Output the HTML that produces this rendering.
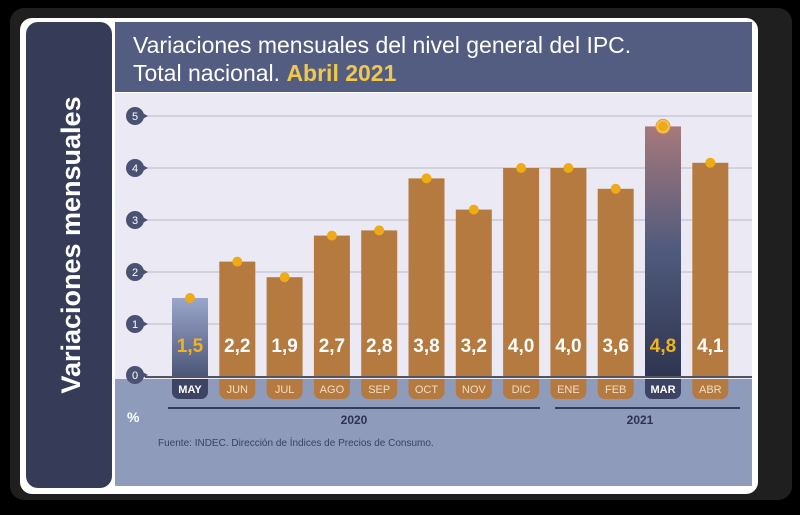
<!DOCTYPE html>
<html><head><meta charset="utf-8">
<style>
body{margin:0;width:800px;height:510px;background:#000;overflow:hidden;font-family:"Liberation Sans",sans-serif}
</style></head>
<body>
<svg width="800" height="510">
<defs>
<linearGradient id="gMay" x1="0" y1="0" x2="0" y2="1"><stop offset="0" stop-color="#9aa6cc"/><stop offset="1" stop-color="#4d5677"/></linearGradient>
<linearGradient id="gMar" x1="0" y1="0" x2="0" y2="1"><stop offset="0" stop-color="#a7787c"/><stop offset="0.5" stop-color="#4f5a7d"/><stop offset="1" stop-color="#2f3550"/></linearGradient>
</defs>
<rect x="10" y="8" width="782" height="492" rx="14" fill="#1f1f1f"/>
<rect x="20" y="18" width="738" height="476" rx="12" fill="#fff"/>
<rect x="26" y="22" width="86" height="466" rx="12" fill="#363c58"/>
<text transform="translate(80,245) rotate(-90)" text-anchor="middle" font-size="27" font-weight="bold" fill="#fff">Variaciones mensuales</text>
<rect x="115" y="22" width="637" height="70" fill="#535d82"/>
<text x="133" y="53" font-size="23" fill="#fff">Variaciones mensuales del nivel general del IPC.</text>
<text x="133" y="81" font-size="23" fill="#fff">Total nacional. <tspan fill="#f2c84a" font-weight="bold">Abril 2021</tspan></text>
<rect x="115" y="93" width="637" height="286" fill="#ebe9f3"/>
<rect x="115" y="379" width="637" height="107" fill="#8e9bbb"/>
<g id="grid"></g>
<g id="bars"></g>
<line x1="145" y1="377" x2="752" y2="377" stroke="#1e2235" stroke-width="1.5"/>
<g id="ticks"></g>
<line x1="168" y1="408" x2="540" y2="408" stroke="#363c58" stroke-width="2"/>
<line x1="555" y1="408" x2="740" y2="408" stroke="#363c58" stroke-width="2"/>
<text x="354" y="424" text-anchor="middle" font-size="12" font-weight="bold" fill="#2c3250">2020</text>
<text x="640" y="424" text-anchor="middle" font-size="12" font-weight="bold" fill="#2c3250">2021</text>
<text x="127" y="422" font-size="14" font-weight="bold" fill="#fff">%</text>
<text x="158" y="446" font-size="10" fill="#3b4262">Fuente: INDEC. Dirección de Índices de Precios de Consumo.</text>
</svg>
<script>
const months=["MAY","JUN","JUL","AGO","SEP","OCT","NOV","DIC","ENE","FEB","MAR","ABR"];
const values=[1.5,2.2,1.9,2.7,2.8,3.8,3.2,4.0,4.0,3.6,4.8,4.1];
const labels=["1,5","2,2","1,9","2,7","2,8","3,8","3,2","4,0","4,0","3,6","4,8","4,1"];
const yTicks=[0,1,2,3,4,5];
const NS="http://www.w3.org/2000/svg";
const y=v=>376-v*52;
const x=i=>190+i*47.3;
function mk(t,a,p){const e=document.createElementNS(NS,t);for(const k in a)e.setAttribute(k,a[k]);p.appendChild(e);return e;}
const grid=document.getElementById('grid'),ticks=document.getElementById('ticks'),bars=document.getElementById('bars');
yTicks.forEach(t=>{
 if(t>0){const l=mk('line',{x1:145,x2:752,y1:y(t),y2:y(t),stroke:'#c4c3d0','stroke-width':1.2},grid);
 
 }
 const yy=y(t)+(t==0?-1:0);
 const p=mk('path',{d:`M137 ${yy-6} L148 ${yy} L137 ${yy+6}Z`,fill:'#4a5274'},ticks);
 
 
 const c=mk('circle',{cx:135,cy:yy,r:9,fill:'#4a5274'},ticks);
 
 
 const tx=mk('text',{x:135,y:yy+4,'text-anchor':'middle','font-size':11,fill:'#fff'},ticks);
 tx.textContent=t;
 
 
});
values.forEach((v,i)=>{
 const cx=x(i),w=36;
 const special=i==0?'url(#gMay)':i==10?'url(#gMar)':'#b57a3f';
 const b=mk('rect',{x:cx-w/2,y:y(v),width:w,height:376-y(v),fill:special},bars);
 
 
 if(i==10){const r=mk('circle',{cx:cx,cy:y(v),r:7,fill:'#f2c070',stroke:'#e8a21a','stroke-width':1},bars);
 
 }
 const d=mk('circle',{cx:cx,cy:y(v),r:5,fill:'#eeaa17'},bars);
 
 
 const hl=(i==0||i==10);
 const t=mk('text',{x:cx,y:352,'text-anchor':'middle','font-size':19,'font-weight':'bold',fill:hl?'#f0b41e':'#fff'},bars);
 t.textContent=labels[i];
 
 
 const pill=mk('path',{d:`M${cx-w/2} 379 H${cx+w/2} V392 a7 7 0 0 1 -7 7 H${cx-w/2+7} a7 7 0 0 1 -7 -7Z`,fill:hl?'#3c4363':'#b57a3f'},bars);
 
 
 const m=mk('text',{x:cx,y:393,'text-anchor':'middle','font-size':11,'font-weight':hl?'bold':'normal',fill:hl?'#fff':'#f3dcc3'},bars);
 m.textContent=months[i];
 
 
});
</script>
</body></html>
